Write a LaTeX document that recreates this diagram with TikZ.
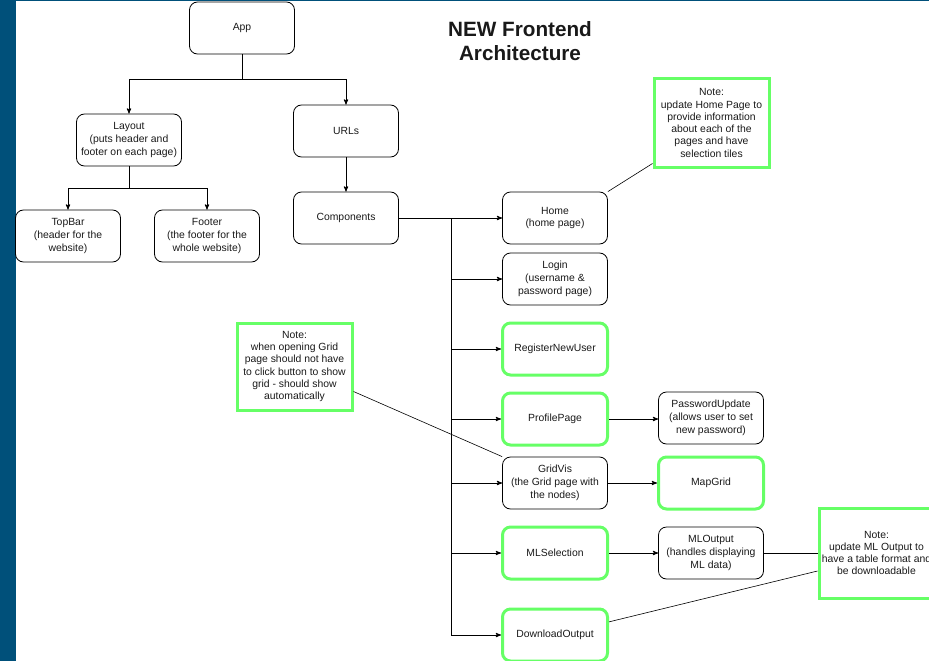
\documentclass[tikz,border=0pt]{standalone}
\usepackage{fontspec}
\setmainfont{Liberation Sans}
\usetikzlibrary{arrows}

\definecolor{edgeblue}{RGB}{0,80,122}
\definecolor{notegreen}{RGB}{102,255,102}
\definecolor{inktext}{RGB}{25,25,25}

\begin{document}
\begin{tikzpicture}[x=1pt, y=-1pt,
  every node/.style = {align = center, text = inktext, font = \fontsize{10.4}{13}\selectfont},
  page/.style = {draw, rounded corners = 8pt, line width = 0.8pt,
                 minimum width = 105pt, minimum height = 52pt, inner sep = 2pt},
  newpage/.style = {page, draw = notegreen, line width = 3pt},
  note/.style = {draw = notegreen, line width = 3pt, minimum width = 115pt, inner sep = 2pt,
                 font = \fontsize{10.4}{12.3}\selectfont}]
\tikzstyle{line} = [draw, line width = 0.9pt, -stealth']

\useasboundingbox (0,0) rectangle (929,661);
\clip (0,0) rectangle (929,661);
\fill[edgeblue] (0,0) rectangle (16,661);
\fill[edgeblue] (0,0) rectangle (929,1.5);

% title
\node[font = \fontsize{20.7}{24}\selectfont\bfseries] (title) at (520,41)
{NEW Frontend \\ Architecture};

% tree
\node[page] (app) at (242,28) {App};
\node[page] (layout) at (129,140) {Layout \\ (puts header and \\ footer on each page)};
\node[page] (topbar) at (68,236) {TopBar \\ (header for the \\ website)};
\node[page] (footer) at (207,236) {Footer \\ (the footer for the \\ whole website)};
\node[page] (urls) at (346,131) {URLs};
\node[page] (components) at (346,218) {Components};

% pages
\node[page] (home) at (555,218) {Home \\ (home page)};
\node[page] (login) at (555,279) {Login \\ (username \& \\ password page)};
\node[newpage] (register) at (555,349) {RegisterNewUser};
\node[newpage] (profile) at (555,419) {ProfilePage};
\node[page] (gridvis) at (555,483) {GridVis \\ (the Grid page with \\ the nodes)};
\node[newpage] (mlselect) at (555,553) {MLSelection};
\node[newpage] (download) at (555,635) {DownloadOutput};

\node[page] (pwupdate) at (711,418) {PasswordUpdate \\ (allows user to set \\ new password)};
\node[newpage] (mapgrid) at (711,483) {MapGrid};
\node[page] (mloutput) at (711,553) {MLOutput \\ (handles displaying \\ ML data)};

% notes
\node[note, minimum height = 88pt] (homenote) at (711.5,123)
{Note: \\ update Home Page to \\ provide information \\ about each of the \\ pages and have \\ selection tiles};
\node[note, minimum height = 87pt] (gridnote) at (294.5,366.5)
{Note: \\ when opening Grid \\ page should not have \\ to click button to show \\ grid - should show \\ automatically};
\node[note, minimum height = 90pt] (mlnote) at (876.5,553)
{Note: \\ update ML Output to \\ have a table format and \\ be downloadable};

% connectors
\coordinate (appsplit) at (242,79);
\coordinate (layoutsplit) at (129,188);
\coordinate (bus) at (451,218);

\draw[line width = 0.9pt] (app) -- (appsplit);
\path[line] (appsplit) -| (layout);
\path[line] (appsplit) -| (urls);
\draw[line width = 0.9pt] (layout) -- (layoutsplit);
\path[line] (layoutsplit) -| (topbar);
\path[line] (layoutsplit) -| (footer);
\path[line] (urls) -- (components);

\path[line] (components) -- (home);
\draw[line width = 0.9pt] (bus) -- (bus |- download);
\foreach \pg in {login, register, profile, gridvis, mlselect, download}
  \path[line] (bus |- \pg) -- (\pg);

\path[line] (profile) -- (profile -| pwupdate.west);
\path[line] (gridvis) -- (mapgrid);
\path[line] (mlselect) -- (mloutput);

\draw[line width = 0.6pt] (home.north east) -- ([yshift = 5pt]homenote.south west);
\draw[line width = 0.6pt] ([yshift = -25pt]gridnote.east) -- (gridvis.north west);
\draw[line width = 0.6pt] (mloutput) -- (mlnote);
\draw[line width = 0.6pt] (download) -- ([yshift = -18pt]mlnote.west);

\end{tikzpicture}
\end{document}
